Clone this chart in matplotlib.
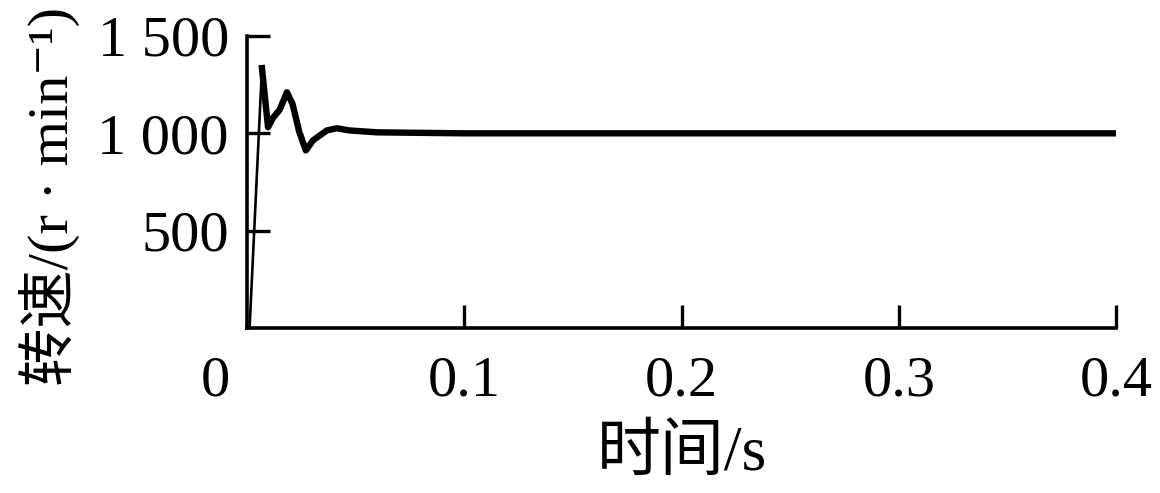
import matplotlib
matplotlib.use("Agg")
from matplotlib import pyplot as plt

# ─── dados ──────────────────────────────────────────────────────
time_s = [0.0, 0.0012, 0.0069, 0.0097, 0.0120, 0.0150, 0.0184, 0.0210,
          0.0240, 0.0271, 0.0304, 0.0368, 0.0414, 0.0470, 0.0600, 0.1000,
          0.2000, 0.3000, 0.4000]
speed_rpm = [0, 0, 1335, 1031, 1080, 1120, 1211, 1150,
             1010, 912, 964, 1015, 1026, 1015, 1005, 1000,
             1000, 1000, 1000]
x_ticks = [0.1, 0.2, 0.3, 0.4]
x_tick_labels = ["0.1", "0.2", "0.3", "0.4"]
y_ticks = [500, 1000, 1500]
y_tick_labels = ["500", "1 000", "1 500"]

FONT = ["Liberation Serif", "Noto Sans CJK SC", "DejaVu Serif"]
plt.rcParams["font.family"] = FONT

fig = plt.figure(figsize=(11.6, 4.93), dpi=100)
ax = fig.add_axes([0.2129, 0.3347, 0.7492, 0.5923])

# subida fina, resto mais grosso (ruído do sinal)
ax.plot(time_s[:3], speed_rpm[:3], color="black", lw=1.9, solid_joinstyle="miter")
ax.plot(time_s[2:], speed_rpm[2:], color="black", lw=4.6, solid_joinstyle="round")

ax.set_xlim(0, 0.4)
ax.set_ylim(0, 1500)
ax.set_xticks(x_ticks)
ax.set_xticklabels(x_tick_labels)
ax.set_yticks(y_ticks)
ax.set_yticklabels(y_tick_labels)

for side in ["top", "right"]:
    ax.spines[side].set_visible(False)
for side in ["left", "bottom"]:
    ax.spines[side].set_linewidth(2.6)

ax.tick_params(axis="both", direction="in", length=16.5, width=2.4,
               labelsize=42)
ax.tick_params(axis="x", pad=20)
ax.tick_params(axis="y", pad=13)

# rótulo "0" compartilhado na origem
ax.text(-0.0147, -0.095, "0", transform=ax.get_xaxis_transform(),
        ha="center", va="top", fontsize=42)

ax.set_xlabel("时间/s", fontsize=46)
ax.xaxis.set_label_coords(0.5, -0.335)
ax.set_ylabel("转速/(r · min⁻¹)", fontsize=42)
ax.yaxis.set_label_coords(-0.192, 0.45)

fig.savefig("out.png", dpi=100)
